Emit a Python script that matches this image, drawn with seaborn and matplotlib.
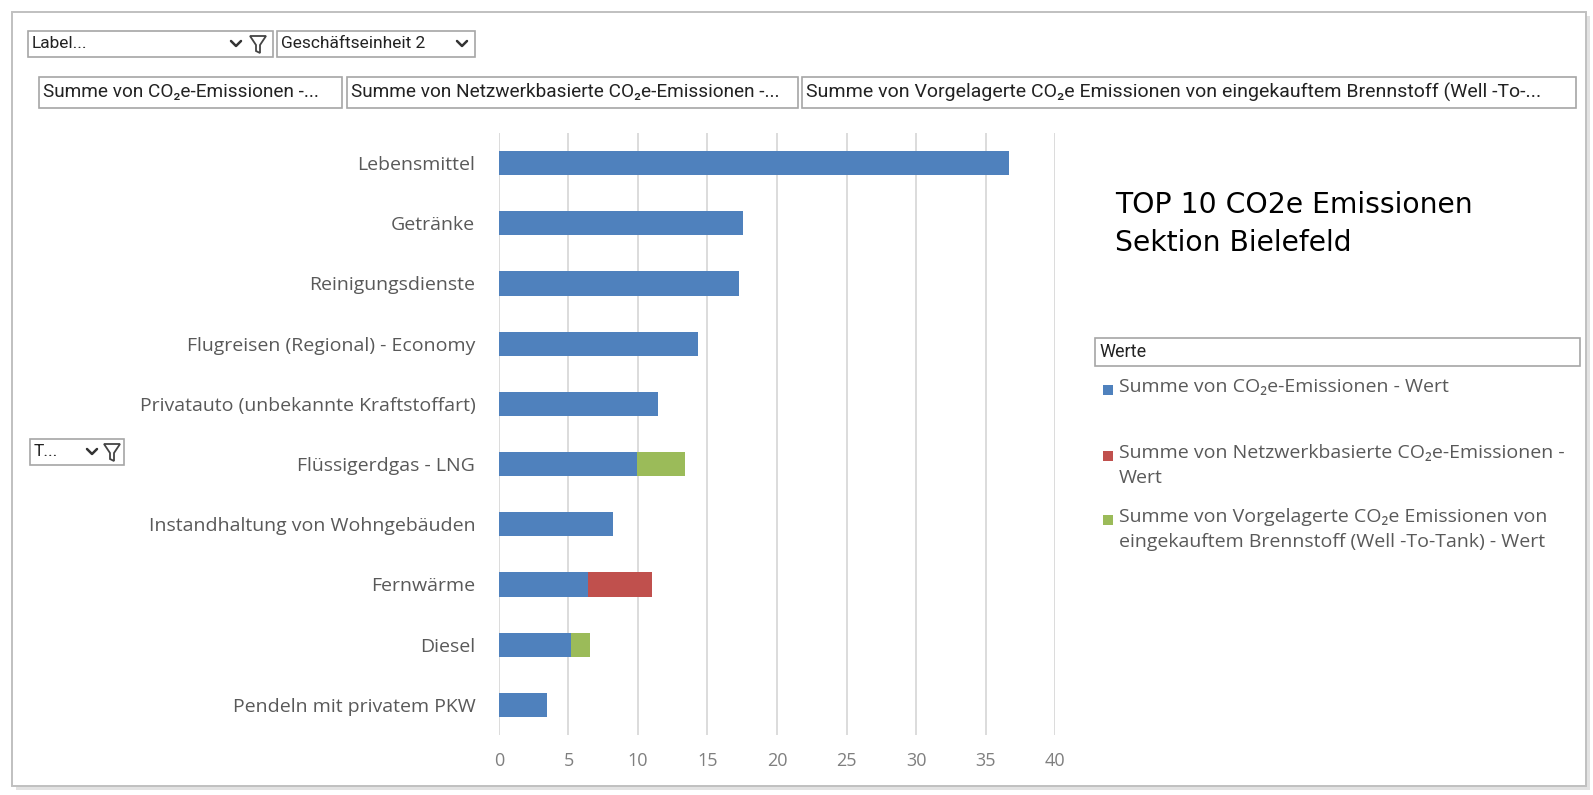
import matplotlib
matplotlib.use('Agg')
import matplotlib.pyplot as plt
import seaborn as sns
import pandas as pd
from matplotlib.patches import Rectangle, Polygon

# data
categories = ['Lebensmittel', 'Getränke', 'Reinigungsdienste', 'Flugreisen (Regional) - Economy',
              'Privatauto (unbekannte Kraftstoffart)', 'Flüssigerdgas - LNG',
              'Instandhaltung von Wohngebäuden', 'Fernwärme', 'Diesel', 'Pendeln mit privatem PKW']
co2e = [36.67, 17.58, 17.29, 14.34, 11.44, 9.93, 8.17, 6.44, 5.19, 3.46]
netz = [0, 0, 0, 0, 0, 0, 0, 4.54, 0, 0]
wtt = [0, 0, 0, 0, 0, 3.48, 0, 0, 1.37, 0]
x_ticks = [0, 5, 10, 15, 20, 25, 30, 35, 40]

series_labels = ['Summe von CO₂e-Emissionen - Wert',
                 'Summe von Netzwerkbasierte CO₂e-Emissionen -\nWert',
                 'Summe von Vorgelagerte CO₂e Emissionen von\neingekauftem Brennstoff (Well -To-Tank) - Wert']
colors = ['#4f81bd', '#c0504d', '#9bbb59']

df = pd.DataFrame({'Kategorie': categories, 'co2e': co2e, 'netz': netz, 'wtt': wtt})
df['lvl1'] = df['co2e']
df['lvl2'] = df['co2e'] + df['netz']
df['lvl3'] = df['co2e'] + df['netz'] + df['wtt']

sns.set_theme(style='white')
plt.rcParams['font.family'] = ['Open Sans', 'DejaVu Sans']

fig = plt.figure(figsize=(15.93, 7.95), dpi=100)

# overlay in pixel coordinates for the pivot-table widgets
ov = fig.add_axes([0, 0, 1, 1])
ov.set_xlim(0, 1593)
ov.set_ylim(795, 0)
ov.axis('off')

# outer frame with a soft shadow
ov.add_patch(Rectangle((16, 16), 1574, 774, facecolor='#d0d0d0', edgecolor='none', alpha=0.6))
ov.add_patch(Rectangle((12, 12), 1574, 774, facecolor='white', edgecolor='#c0c0c0', lw=1.4))

box_font = ['Liberation Sans Narrow', 'Roboto', 'DejaVu Sans']


def box(x0, y0, x1, y1, text, size=12.5):
    ov.add_patch(Rectangle((x0, y0), x1 - x0, y1 - y0, facecolor='white',
                           edgecolor='#a6a6a6', lw=1.2))
    ov.text(x0 + 4, (y0 + y1) / 2, text, ha='left', va='center', fontsize=size,
            color='#222222', family=box_font)


def chevron(x, y):
    ov.plot([x - 5, x, x + 5], [y - 3, y + 2, y - 3], color='#333333', lw=1.8)


def funnel(x, y):
    ov.add_patch(Polygon([(x - 8, y - 8), (x + 8, y - 8), (x + 2, y + 1), (x + 2, y + 9),
                          (x - 2, y + 7), (x - 2, y + 1)], closed=True, fill=False,
                         edgecolor='#444444', lw=1.3))


box(28, 31, 273, 57, 'Label...')
chevron(236, 44)
funnel(258, 44)
box(277, 31, 475, 57, 'Geschäftseinheit 2')
chevron(462, 44)

box(39, 77, 342, 108, 'Summe von CO₂e-Emissionen -...', size=13.7)
box(347, 77, 798, 108, 'Summe von Netzwerkbasierte CO₂e-Emissionen -...', size=13.7)
box(802, 77, 1576, 108, 'Summe von Vorgelagerte CO₂e Emissionen von eingekauftem Brennstoff (Well -To-...',
    size=14)

box(30, 439, 124, 465, 'T...')
chevron(92, 452)
funnel(112, 452)

# title text
ov.text(1115, 191, 'TOP 10 CO2e Emissionen\nSektion Bielefeld', ha='left', va='top',
        fontsize=20.3, color='black', family='DejaVu Sans', linespacing=1.45)

# legend
box(1095, 338, 1580, 366, 'Werte', size=13)
leg_y = [390, 456, 520]
for c, lab, y in zip(colors, series_labels, leg_y):
    ov.add_patch(Rectangle((1103, y - 5), 10, 10, facecolor=c, edgecolor='none'))
    ov.text(1119, y - 12, lab, ha='left', va='top', fontsize=14, color='#595959',
            linespacing=1.5)

# chart
ax = fig.add_axes([0.3132, 0.0755, 0.3491, 0.7572])
sns.barplot(data=df, x='lvl3', y='Kategorie', color=colors[2], orient='h', width=0.4,
            saturation=1, linewidth=0, ax=ax)
sns.barplot(data=df, x='lvl2', y='Kategorie', color=colors[1], orient='h', width=0.4,
            saturation=1, linewidth=0, ax=ax)
sns.barplot(data=df, x='lvl1', y='Kategorie', color=colors[0], orient='h', width=0.4,
            saturation=1, linewidth=0, ax=ax)

ax.set_xlim(0, 40)
ax.set_xticks(x_ticks)
ax.set_xlabel('')
ax.set_ylabel('')
ax.grid(axis='x', color='#d9d9d9', lw=1.3)
ax.set_axisbelow(True)
for s in ax.spines.values():
    s.set_visible(False)
ax.patch.set_alpha(0)
ax.tick_params(axis='y', length=0, pad=17, labelsize=14, labelcolor='#595959')
ax.tick_params(axis='x', length=6, color='#d9d9d9', width=1.3, pad=6, labelsize=13,
               labelcolor='#7f7f7f')

fig.savefig('out.png', dpi=100)
